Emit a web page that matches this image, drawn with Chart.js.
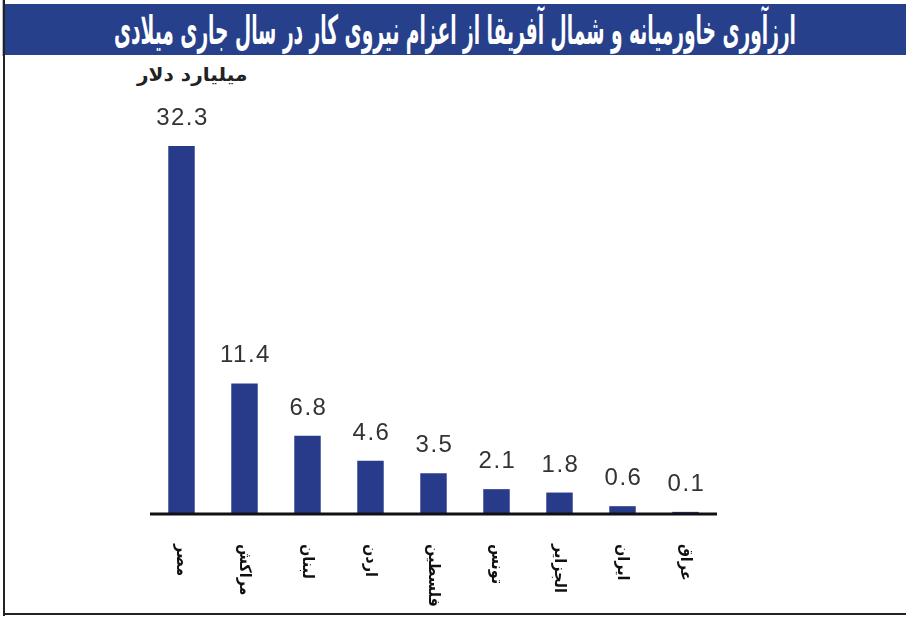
<!DOCTYPE html>
<html lang="fa">
<head>
<meta charset="utf-8">
<script src="https://cdn.jsdelivr.net/npm/chart.js@4.4.1/dist/chart.umd.min.js"></script>
<style>
  html, body { margin: 0; padding: 0; background: #fff; }
  #frame { position: relative; width: 906px; height: 618px; overflow: hidden; background: #fff; }
  #title {
    position: absolute; left: 4px; top: 4px; width: 902px; height: 51px;
    background: #27408b; color: #fff; overflow: hidden;
  }
  #titleText {
    position: absolute; left: 50%; top: 50%; white-space: nowrap;
    font-family: "DejaVu Sans Condensed", "DejaVu Sans", sans-serif; font-weight: bold;
    font-size: 40px; direction: rtl; transform-origin: center center;
  }
  #leftLine { position: absolute; left: 3px; top: 0; width: 2px; height: 616px; background: #222; }
  #leftLineTop { position: absolute; left: 2px; top: 0; width: 2px; height: 56px; background: #bbb; }
  #bottomLine { position: absolute; left: 3px; top: 613px; width: 903px; height: 2px; background: #222; }
  #unit {
    position: absolute; left: 137px; top: 63px; display: inline-block; white-space: nowrap;
    font-family: "DejaVu Sans", sans-serif; font-weight: bold; font-size: 19px; color: #222;
    direction: rtl; transform-origin: left center;
  }
  #chartBox { position: absolute; left: 0; top: 56px; width: 906px; height: 556px; }
</style>
</head>
<body>
<div id="frame">
  <div id="title"><div id="titleText">ارزآوری خاورمیانه و شمال آفریقا از اعزام نیروی کار در سال جاری میلادی</div></div>
  <div id="leftLineTop"></div>
  <div id="leftLine"></div>
  <div id="bottomLine"></div>
  <div id="unit">میلیارد دلار</div>
  <div id="chartBox"><canvas id="chart"></canvas></div>
</div>
<script>
const countries = ['مصر', 'مراکش', 'لبنان', 'اردن', 'فلسطین', 'تونس', 'الجزایر', 'ایران', 'عراق'];
const remittances = [32.3, 11.4, 6.8, 4.6, 3.5, 2.1, 1.8, 0.6, 0.1];
const valueLabels = ['32.3', '11.4', '6.8', '4.6', '3.5', '2.1', '1.8', '0.6', '0.1'];

// fit the title to the width it has in the picture
const tt = document.getElementById('titleText');
const sx = 682 / tt.offsetWidth;
tt.style.transform = 'translate(-50%, -50%) scaleX(' + sx + ')';
// and the unit label
const un = document.getElementById('unit');
un.style.transform = 'scaleX(' + (110 / un.offsetWidth) + ')';

const extras = {
  id: 'extras',
  afterDatasetsDraw(chart) {
    const ctx = chart.ctx;
    const x = chart.scales.x;
    const y = chart.scales.y;
    const base = y.getPixelForValue(0);
    ctx.save();
    // axis line
    ctx.strokeStyle = '#111';
    ctx.lineWidth = 3;
    ctx.beginPath();
    ctx.moveTo(x.left, base + 1);
    ctx.lineTo(x.right, base + 1);
    ctx.stroke();

    // values above bars
    const meta = chart.getDatasetMeta(0);
    ctx.fillStyle = '#333';
    ctx.font = '24px "Liberation Sans", Arial, sans-serif';
    ctx.letterSpacing = '1.5px';
    ctx.textAlign = 'center';
    ctx.textBaseline = 'alphabetic';
    meta.data.forEach((bar, i) => {
      ctx.fillText(valueLabels[i], bar.x + 1, bar.y - 21);
    });

    // category labels, turned clockwise
    ctx.letterSpacing = '0px';
    ctx.fillStyle = '#111';
    ctx.font = 'bold 16px "DejaVu Sans Condensed", "DejaVu Sans", sans-serif';
    ctx.textAlign = 'left';
    ctx.textBaseline = 'middle';
    countries.forEach((c, i) => {
      const px = x.getPixelForValue(i);
      ctx.save();
      ctx.translate(px, base + 31);
      ctx.rotate(Math.PI / 2);
      ctx.fillText(c, 0, 0);
      ctx.restore();
    });
    ctx.restore();
  }
};

new Chart(document.getElementById('chart'), {
  type: 'bar',
  data: {
    labels: countries,
    datasets: [{
      data: remittances,
      backgroundColor: '#283b8b',
      barPercentage: 0.42,
      categoryPercentage: 1.0
    }]
  },
  options: {
    responsive: true,
    maintainAspectRatio: false,
    animation: false,
    layout: { padding: { left: 150, right: 189, top: 48, bottom: 99 } },
    plugins: { legend: { display: false }, tooltip: { enabled: false } },
    scales: {
      x: { display: false },
      y: { display: false, min: 0, max: 36 }
    }
  },
  plugins: [extras]
});
</script>
</body>
</html>
